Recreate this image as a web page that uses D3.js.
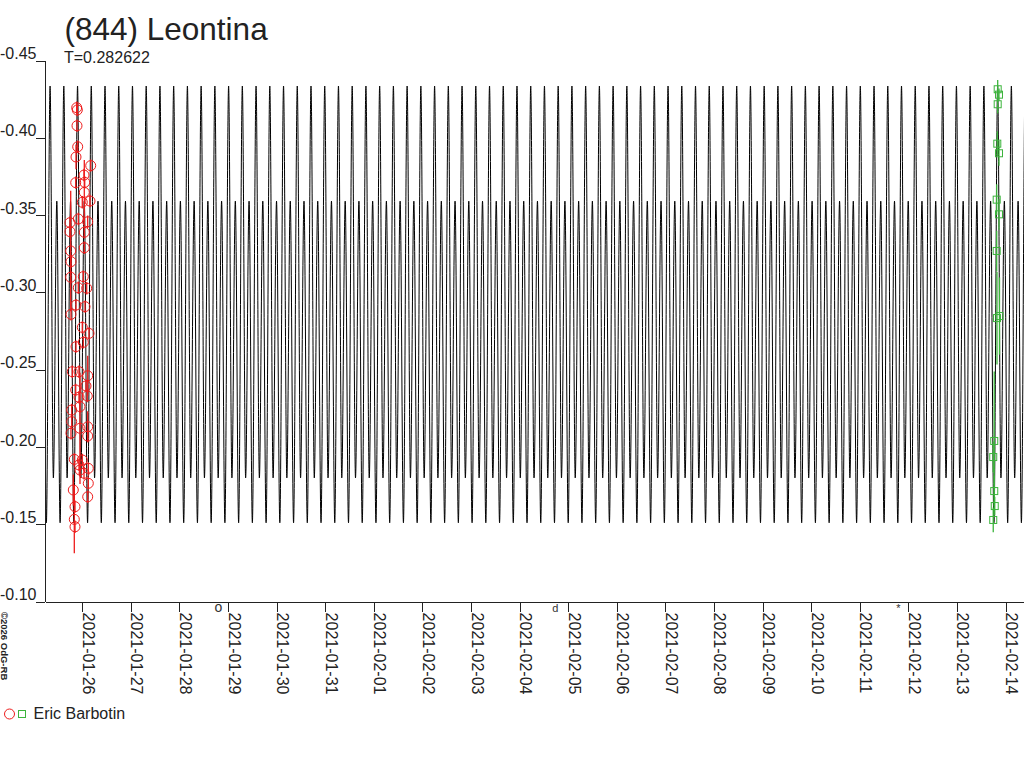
<!DOCTYPE html>
<html>
<head>
<meta charset="utf-8">
<script src="https://cdn.jsdelivr.net/npm/d3@7"></script>
<style>
  body { margin: 0; background: #fff; }
  svg { display: block; font-family: "Liberation Sans", Arial, sans-serif; }
</style>
</head>
<body>
<div id="chart"></div>
<script>
const title = '(844) Leontina';
const period = 0.282622;          // days
const jdBase = 2459240;
const jdMax = 2459240.68475;      // a main maximum of the model
const jdStart = 2459239.7323;
const jdEnd = 2459259.8803;

// model over one rotation: phase after the main maximum, magnitude
const cyclePhase = [0, 0.24, 0.49, 0.73];
const cycleMag = [-0.4335, -0.180, -0.359, -0.151];

const yTicks = [-0.45, -0.40, -0.35, -0.30, -0.25, -0.20, -0.15, -0.10];
const dayTicks = ['2021-01-26', '2021-01-27', '2021-01-28', '2021-01-29', '2021-01-30',
  '2021-01-31', '2021-02-01', '2021-02-02', '2021-02-03', '2021-02-04', '2021-02-05',
  '2021-02-06', '2021-02-07', '2021-02-08', '2021-02-09', '2021-02-10', '2021-02-11',
  '2021-02-12', '2021-02-13', '2021-02-14'];

const observer = 'Eric Barbotin';

// session 1 (red circles), JD - 2459240
const redJD = [0.3848, 0.3971, 0.3909, 0.4053, 0.3703, 0.6729, 0.5350, 0.3642, 0.5494, 0.5412,
  0.6585, 0.5000, 0.4177, 0.6111, 0.2469, 0.2469, 0.5412, 0.5412, 0.2613, 0.2674,
  0.2613, 0.5206, 0.4177, 0.5906, 0.3703, 0.5556, 0.2674, 0.5000, 0.6379, 0.3703,
  0.5206, 0.2942, 0.4321, 0.6111, 0.3642, 0.5761, 0.4321, 0.6029, 0.2818, 0.4527,
  0.2818, 0.6111, 0.2674, 0.4527, 0.6111, 0.3354, 0.5000, 0.4321, 0.6235, 0.5350,
  0.4527, 0.6235, 0.3148, 0.6111, 0.3498, 0.3354, 0.3498];
const redMag = [-0.4195, -0.4180, -0.4078, -0.3942, -0.3876, -0.3820, -0.3759, -0.3710, -0.3712, -0.3647,
  -0.3591, -0.3583, -0.3475, -0.3457, -0.3451, -0.3393, -0.3389, -0.3289, -0.3268, -0.3199,
  -0.3098, -0.3102, -0.3030, -0.3027, -0.2918, -0.2908, -0.2858, -0.2774, -0.2735, -0.2649,
  -0.2677, -0.2487, -0.2487, -0.2461, -0.2369, -0.2395, -0.2322, -0.2330, -0.2239, -0.2261,
  -0.2164, -0.2131, -0.2089, -0.2121, -0.2071, -0.1920, -0.1916, -0.1884, -0.1862, -0.1830,
  -0.1851, -0.1765, -0.1722, -0.1678, -0.1614, -0.1532, -0.1484];
const redErr = [0.004, 0.004, 0.004, 0.004, 0.008, 0.004, 0.004, 0.004, 0.004, 0.021,
  0.004, 0.004, 0.004, 0.004, 0.004, 0.004, 0.004, 0.004, 0.039, 0.004,
  0.004, 0.004, 0.004, 0.004, 0.004, 0.004, 0.004, 0.004, 0.004, 0.004,
  0.004, 0.004, 0.004, 0.013, 0.004, 0.004, 0.004, 0.004, 0.004, 0.004,
  0.004, 0.010, 0.004, 0.036, 0.004, 0.004, 0.004, 0.004, 0.004, 0.004,
  0.004, 0.004, 0.010, 0.004, 0.004, 0.022, 0.004];

// session 2 (green squares), JD - 2459240
const greenJD = [19.3389, 19.3656, 19.3389, 19.3307, 19.3656, 19.3183, 19.3656, 19.3183,
  19.3245, 19.3759, 19.2679, 19.2473, 19.2679, 19.2782, 19.2473];
const greenMag = [-0.4314, -0.4279, -0.4217, -0.3962, -0.3900, -0.3600, -0.3505, -0.3268,
  -0.2834, -0.2847, -0.2039, -0.1935, -0.1715, -0.1618, -0.1528];
const greenErr = [0.006, 0.004, 0.006, 0.008, 0.008, 0.010, 0.010, 0.013,
  0.030, 0.025, 0.045, 0.010, 0.010, 0.006, 0.008];

const moonDates = ['2021-01-28T19:16:00Z', '2021-02-04T17:37:00Z', '2021-02-11T19:06:00Z'];
const moonSymbols = ['o', 'd', '*'];
const moonSizes = [14, 11, 11];

const chartWidth = 1024;
const chartHeight = 768;
const plotLeft = 45;
const plotTop = 60.5;
const plotBottom = 601.6;

let jdToDate = jd => new Date((jd - 2440587.5) * 864e5);

let svg = d3.select('#chart').append('svg')
  .attr('width', chartWidth)
  .attr('height', chartHeight)

let x = d3.scaleUtc()
  .domain([jdToDate(jdStart), jdToDate(jdEnd)])
  .range([plotLeft, chartWidth])

let y = d3.scaleLinear()
  .domain([-0.45, -0.10])
  .range([plotTop, plotBottom])

svg.append('text')
  .attr('x', 64.5)
  .attr('y', 39.5)
  .attr('font-size', 31.5)
  .attr('fill', '#222')
  .text(title)

svg.append('text')
  .attr('x', 64)
  .attr('y', 63)
  .attr('font-size', 16)
  .attr('fill', '#222')
  .text(`T=${period}`)

svg.append('clipPath').attr('id', 'plot')
  .append('rect')
    .attr('x', plotLeft)
    .attr('y', plotTop)
    .attr('width', chartWidth - plotLeft)
    .attr('height', plotBottom - plotTop)

// model light curve, one rotation repeated with the period
let model = [];
let k0 = Math.floor((jdStart - jdMax) / period) - 1;
let k1 = Math.ceil((jdEnd - jdMax) / period) + 1;
for (let k = k0; k <= k1; k++) {
  cyclePhase.forEach((p, i) => model.push({jd: jdMax + (k + p) * period, mag: cycleMag[i]}));
}

let line = d3.line()
  .x(d => x(jdToDate(d.jd)))
  .y(d => y(d.mag))
  .curve(d3.curveMonotoneX)

svg.append('path')
  .datum(model)
  .attr('clip-path', 'url(#plot)')
  .attr('fill', 'none')
  .attr('stroke', '#000')
  .attr('stroke-width', 1)
  .attr('d', line)

let red = redJD.map((t, i) => ({date: jdToDate(jdBase + t), mag: redMag[i], err: redErr[i]}));
let green = greenJD.map((t, i) => ({date: jdToDate(jdBase + t), mag: greenMag[i], err: greenErr[i]}));

let drawBars = (data, color) => {
  svg.append('g').selectAll('line').data(data)
    .enter().append('line')
      .attr('x1', d => x(d.date))
      .attr('x2', d => x(d.date))
      .attr('y1', d => y(d.mag - d.err))
      .attr('y2', d => y(d.mag + d.err))
      .attr('stroke', color)
      .attr('stroke-width', 1.3)
}

drawBars(red, '#ee1c1c')
drawBars(green, '#3cb43c')

svg.append('g').selectAll('circle').data(red)
  .enter().append('circle')
    .attr('cx', d => x(d.date))
    .attr('cy', d => y(d.mag))
    .attr('r', 5)
    .attr('fill', 'none')
    .attr('stroke', '#ee1c1c')
    .attr('stroke-width', 1)

svg.append('g').selectAll('rect').data(green)
  .enter().append('rect')
    .attr('x', d => x(d.date) - 3.5)
    .attr('y', d => y(d.mag) - 3.5)
    .attr('width', 7)
    .attr('height', 7)
    .attr('fill', 'none')
    .attr('stroke', '#3cb43c')
    .attr('stroke-width', 1)

// axes
let yAxis = svg.append('g')
  .attr('transform', `translate(${plotLeft},0)`)
  .attr('shape-rendering', 'crispEdges')
  .call(d3.axisLeft(y).tickValues(yTicks).tickSize(9).tickSizeOuter(0)
    .tickFormat(d => d3.format('.2f')(d).replace('\u2212', '-')))

yAxis.selectAll('text')
  .attr('x', -8.5)
  .attr('dy', -2)
  .attr('font-size', 16)
  .attr('font-family', '"Liberation Sans", Arial, sans-serif')
  .attr('fill', '#222')

let xAxis = svg.append('g')
  .attr('transform', `translate(0,${plotBottom})`)
  .attr('shape-rendering', 'crispEdges')
  .call(d3.axisBottom(x).tickValues(dayTicks.map(d => new Date(d + 'T00:00:00Z')))
    .tickSize(10).tickSizeOuter(0).tickFormat(d3.utcFormat('%Y-%m-%d')))

xAxis.selectAll('text')
  .attr('y', 0)
  .attr('dy', 0)
  .attr('transform', 'translate(0,11) rotate(90)')
  .attr('text-anchor', 'start')
  .attr('font-size', 16)
  .attr('font-family', '"Liberation Sans", Arial, sans-serif')
  .attr('fill', '#222')

svg.selectAll('.domain, .tick line').attr('stroke', '#222')

// moon phases along the time axis
svg.append('g').selectAll('text').data(moonDates)
  .enter().append('text')
    .attr('x', d => x(new Date(d)))
    .attr('y', 612)
    .attr('text-anchor', 'middle')
    .attr('font-size', (d, i) => moonSizes[i])
    .attr('fill', '#333')
    .text((d, i) => moonSymbols[i])

svg.append('text')
  .attr('transform', 'translate(1,612) rotate(90)')
  .attr('font-size', 9.5)
  .attr('font-weight', 'bold')
  .attr('fill', '#222')
  .text('\u00a92026 OdG-RB')

// legend
let legend = svg.append('g').attr('transform', 'translate(0,714)')
legend.append('circle')
  .attr('cx', 9.5)
  .attr('cy', 0)
  .attr('r', 5)
  .attr('fill', 'none')
  .attr('stroke', '#ee1c1c')
legend.append('rect')
  .attr('x', 18.5)
  .attr('y', -3.5)
  .attr('width', 7)
  .attr('height', 7)
  .attr('fill', 'none')
  .attr('stroke', '#3cb43c')
legend.append('text')
  .attr('x', 33.5)
  .attr('y', 4.5)
  .attr('font-size', 16)
  .attr('fill', '#222')
  .text(observer)
</script>
</body>
</html>
